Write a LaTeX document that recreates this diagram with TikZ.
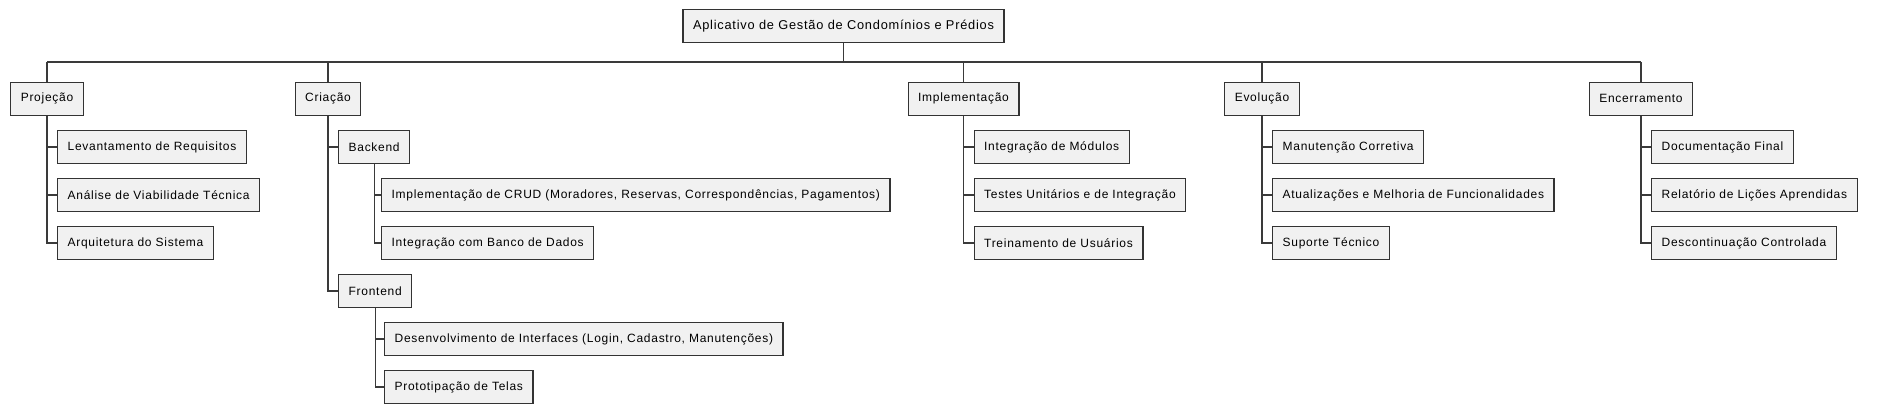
\documentclass[tikz,border=0pt]{standalone}
\usepackage{fontspec}
\setmainfont{Liberation Sans}[LetterSpace=6]
\definecolor{boxfill}{HTML}{F1F1F1}
\definecolor{boxline}{HTML}{333333}
\definecolor{linkline}{HTML}{3A3A3A}

\begin{document}
\begin{tikzpicture}[x=1pt, y=-1pt,
    wbs/.style={rectangle, draw=boxline, fill=boxfill, line width=1.3pt,
                minimum height=33pt, inner xsep=10pt, font=\fontsize{12}{14}\selectfont},
    link/.style={draw=linkline, line width=1.3pt}
]
    \useasboundingbox (0,0) rectangle (1881,413);

    % Root and phases
    \node[wbs, font=\fontsize{12.8}{15}\selectfont] (root) at (843.5,26.3) {Aplicativo de Gestão de Condomínios e Prédios};
    \foreach \name/\x/\txt in {proj/47/Projeção, cria/328/Criação, impl/963.5/Implementação,
                               evol/1262/Evolução, ence/1641/Encerramento} {
        \node[wbs] (\name) at (\x,98.7) {\txt};
    }

    % Bus
    \coordinate (bus) at (0,62);
    \draw[link] (root.south) -- (root.south |- bus);
    \draw[link] (proj.north |- bus) -- (ence.north |- bus);
    \foreach \name in {proj,cria,impl,evol,ence} {
        \draw[link] (\name.north |- bus) -- (\name.north);
    }

    % Projeção
    \foreach \name/\y/\txt in {lev/147/Levantamento de Requisitos, ana/195/Análise de Viabilidade Técnica,
                               arq/243/Arquitetura do Sistema} {
        \node[wbs, anchor=west] (\name) at (57,\y) {\txt};
        \draw[link] (proj.south) |- (\name.west);
    }

    % Criação
    \foreach \name/\y/\txt in {back/147/Backend, front/291/Frontend} {
        \node[wbs, anchor=west] (\name) at (338,\y) {\txt};
        \draw[link] (cria.south) |- (\name.west);
    }
    \foreach \name/\y/\txt in {crud/195/{Implementação de CRUD (Moradores, Reservas, Correspondências, Pagamentos)},
                               banco/243/Integração com Banco de Dados} {
        \node[wbs, anchor=west] (\name) at (381,\y) {\txt};
        \draw[link] (back.south) |- (\name.west);
    }
    \foreach \name/\y/\txt in {desenv/339/{Desenvolvimento de Interfaces (Login, Cadastro, Manutenções)},
                               proto/387/Prototipação de Telas} {
        \node[wbs, anchor=west] (\name) at (384,\y) {\txt};
        \draw[link] (front.south) |- (\name.west);
    }

    % Implementação
    \foreach \name/\y/\txt in {modu/147/Integração de Módulos, test/195/Testes Unitários e de Integração,
                               trein/243/Treinamento de Usuários} {
        \node[wbs, anchor=west] (\name) at (973.5,\y) {\txt};
        \draw[link] (impl.south) |- (\name.west);
    }

    % Evolução
    \foreach \name/\y/\txt in {manu/147/Manutenção Corretiva, atua/195/Atualizações e Melhoria de Funcionalidades,
                               supo/243/Suporte Técnico} {
        \node[wbs, anchor=west] (\name) at (1272,\y) {\txt};
        \draw[link] (evol.south) |- (\name.west);
    }

    % Encerramento
    \foreach \name/\y/\txt in {doc/147/Documentação Final, rel/195/Relatório de Lições Aprendidas,
                               desc/243/Descontinuação Controlada} {
        \node[wbs, anchor=west] (\name) at (1651,\y) {\txt};
        \draw[link] (ence.south) |- (\name.west);
    }
\end{tikzpicture}
\end{document}
